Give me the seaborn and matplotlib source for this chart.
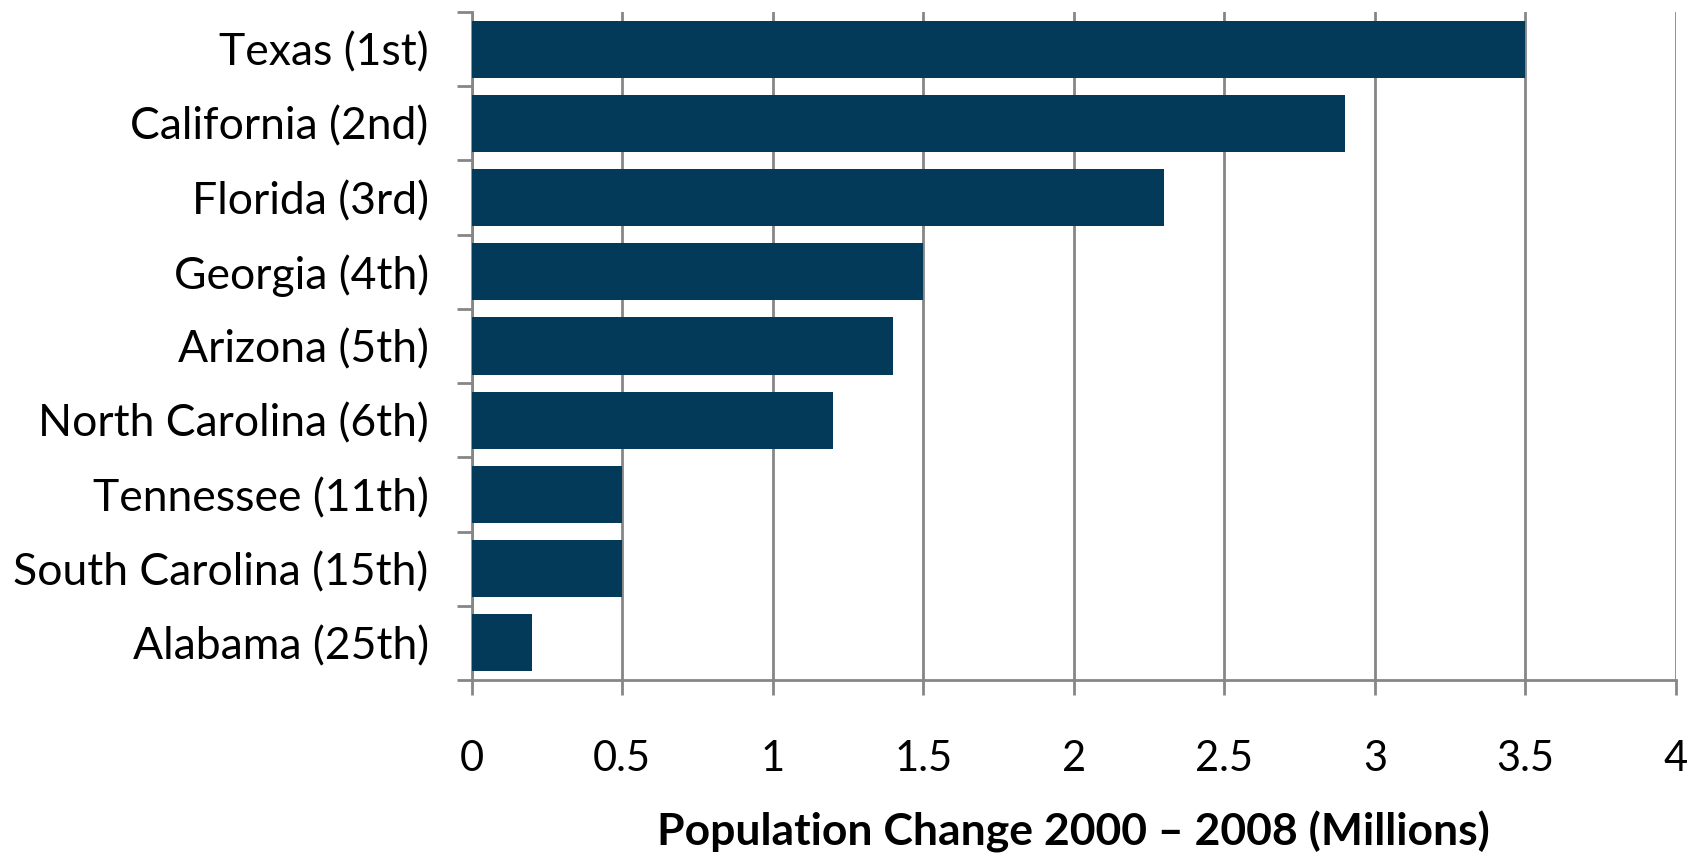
import matplotlib
matplotlib.use("Agg")
import matplotlib.pyplot as plt
import seaborn as sns
import pandas as pd

states = ["Texas (1st)", "California (2nd)", "Florida (3rd)", "Georgia (4th)",
          "Arizona (5th)", "North Carolina (6th)", "Tennessee (11th)",
          "South Carolina (15th)", "Alabama (25th)"]
change = [3.5, 2.9, 2.3, 1.5, 1.4, 1.2, 0.5, 0.5, 0.2]
xticks = [0, 0.5, 1, 1.5, 2, 2.5, 3, 3.5, 4]
xtick_labels = ["0", "0.5", "1", "1.5", "2", "2.5", "3", "3.5", "4"]
xlabel = "Population Change 2000 \u2013 2008 (Millions)"

df = pd.DataFrame({"state": states, "change": change})

sns.set_style("white")
plt.rcParams["font.family"] = ["Lato", "DejaVu Sans"]

DPI = 100
fig = plt.figure(figsize=(16.93, 8.58), dpi=DPI)
ax = fig.add_axes([471.7 / 1693, 1 - 680 / 858, (1676 - 471.7) / 1693, (680 - 12) / 858])

sns.barplot(data=df, y="state", x="change", orient="h", color="#033A5A",
            saturation=1, width=0.77, linewidth=0, ax=ax, zorder=3)

grid_col = "#868686"
ax.set_xlim(0, 4)
ax.set_ylim(len(states) - 0.5, -0.5)
ax.set_xticks(xticks)
ax.set_xticklabels(xtick_labels)
ax.set_yticks([i - 0.5 for i in range(len(states) + 1)], minor=False)
ax.set_yticklabels([])
ax.set_yticks(range(len(states)), minor=True)
ax.set_yticklabels(states, minor=True)

ax.grid(axis="x", color=grid_col, linewidth=2, zorder=0)
ax.grid(axis="y", visible=False)
for s in ["top", "right"]:
    ax.spines[s].set_visible(False)
for s in ["left", "bottom"]:
    ax.spines[s].set_color(grid_col)
    ax.spines[s].set_linewidth(2)

ax.tick_params(axis="y", which="major", length=11, width=2, color=grid_col, left=True)
ax.tick_params(axis="y", which="minor", length=0, pad=31, labelsize=32, labelcolor="black")
ax.tick_params(axis="x", which="major", length=11, width=2, color=grid_col,
               bottom=True, pad=32, labelsize=30, labelcolor="black")

ax.set_xlabel(xlabel, fontsize=32, fontweight="bold", labelpad=24, color="black")
ax.set_ylabel("")

fig.savefig("out.png", dpi=DPI)
